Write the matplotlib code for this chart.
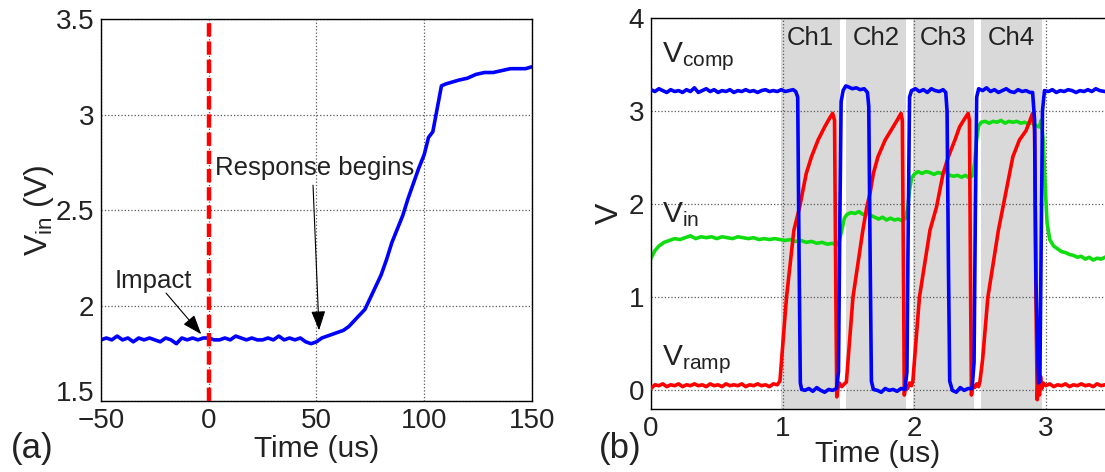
import matplotlib
matplotlib.use('Agg')
import matplotlib.pyplot as plt

# --- Fonts ---
plt.rcParams['font.family'] = ['Liberation Sans', 'DejaVu Sans']
plt.rcParams['mathtext.fontset'] = 'custom'
plt.rcParams['mathtext.rm'] = 'Liberation Sans'
plt.rcParams['mathtext.it'] = 'Liberation Sans:italic'

# --- (a) Vin around the impact, time in us ---
t_a = [-50, -47.5, -45, -42.5, -40, -37.5, -35, -32.5, -30, -27.5, -25, -22.5, -20,
       -17.5, -15, -12.5, -10, -7.5, -5, -2.5, 0, 2.5, 5, 7.5, 10, 12.5, 15, 17.5,
       20, 22.5, 25, 27.5, 30, 32.5, 35, 37.5, 40, 42.5, 45, 47.5, 50, 52.5, 55,
       57.5, 60, 62.5, 65, 67.5, 70, 72.5, 75, 77.5, 80, 82.5, 85, 87.5, 90, 92.5,
       95, 97.5, 100, 102, 104, 106, 108, 110, 113, 116, 120, 124, 128, 132, 136,
       140, 144, 147, 150]
vin_a = [1.82, 1.83, 1.82, 1.84, 1.82, 1.83, 1.81, 1.83, 1.82, 1.83, 1.82, 1.81, 1.83,
         1.82, 1.80, 1.83, 1.82, 1.83, 1.82, 1.83, 1.83, 1.82, 1.82, 1.83, 1.82, 1.84,
         1.83, 1.82, 1.83, 1.82, 1.82, 1.83, 1.82, 1.84, 1.82, 1.83, 1.82, 1.83, 1.81,
         1.80, 1.81, 1.83, 1.84, 1.85, 1.86, 1.87, 1.89, 1.92, 1.95, 1.98, 2.04, 2.10,
         2.16, 2.24, 2.33, 2.40, 2.47, 2.56, 2.64, 2.72, 2.79, 2.88, 2.91, 3.03, 3.15,
         3.16, 3.17, 3.18, 3.19, 3.21, 3.22, 3.22, 3.23, 3.24, 3.24, 3.24, 3.25]
t_impact = 0

# --- (b) converter waveforms, time in us ---
t_comp = [0.00, 0.03, 0.06, 0.09, 0.12, 0.15, 0.18, 0.21, 0.24, 0.27, 0.30, 0.33, 0.36,
          0.39, 0.42, 0.45, 0.48, 0.51, 0.54, 0.57, 0.60, 0.63, 0.66, 0.69, 0.72, 0.75,
          0.78, 0.81, 0.84, 0.87, 0.90, 0.93, 0.96, 0.99, 1.02, 1.05, 1.08, 1.10, 1.115,
          1.125, 1.135, 1.145, 1.17, 1.20, 1.23, 1.26, 1.29, 1.32, 1.35, 1.38, 1.41,
          1.425, 1.435, 1.445, 1.46, 1.48, 1.50, 1.53, 1.56, 1.59, 1.62, 1.645, 1.655,
          1.665, 1.675, 1.69, 1.72, 1.75, 1.78, 1.81, 1.84, 1.87, 1.90, 1.93, 1.945,
          1.955, 1.965, 1.98, 2.01, 2.04, 2.07, 2.10, 2.13, 2.16, 2.19, 2.22, 2.24, 2.25,
          2.26, 2.27, 2.29, 2.32, 2.35, 2.38, 2.41, 2.44, 2.455, 2.465, 2.475, 2.49,
          2.52, 2.55, 2.58, 2.61, 2.64, 2.67, 2.70, 2.73, 2.76, 2.79, 2.82, 2.85, 2.88,
          2.90, 2.915, 2.925, 2.935, 2.945, 2.955, 2.965, 2.975, 2.99, 3.02, 3.05, 3.08,
          3.11, 3.14, 3.17, 3.20, 3.23, 3.26, 3.29, 3.32, 3.35, 3.38, 3.41, 3.45]
v_comp = [3.23, 3.21, 3.24, 3.22, 3.20, 3.23, 3.21, 3.22, 3.20, 3.23, 3.21, 3.25, 3.20,
          3.22, 3.24, 3.21, 3.23, 3.20, 3.22, 3.21, 3.23, 3.20, 3.22, 3.21, 3.23, 3.21,
          3.22, 3.20, 3.22, 3.23, 3.21, 3.22, 3.21, 3.23, 3.21, 3.22, 3.23, 3.21, 3.15,
          1.50, 0.08, 0.01, 0.00, 0.02, -0.01, 0.03, 0.00, -0.02, 0.01, 0.00, 0.02,
          0.20, 1.80, 3.10, 3.22, 3.27, 3.26, 3.24, 3.25, 3.23, 3.24, 3.20, 3.05,
          1.50, 0.10, 0.01, 0.00, -0.02, 0.02, 0.00, 0.01, -0.01, 0.02, 0.01, 0.20,
          1.80, 3.15, 3.22, 3.24, 3.21, 3.23, 3.20, 3.24, 3.22, 3.21, 3.23, 3.20, 3.00,
          1.40, 0.10, 0.00, -0.02, 0.03, 0.00, 0.02, 0.02, 0.30, 1.90, 3.15, 3.24,
          3.22, 3.25, 3.21, 3.23, 3.20, 3.22, 3.24, 3.21, 3.20, 3.23, 3.21, 3.22, 3.20,
          3.20, 2.90, 1.20, 0.60, 0.08, 0.10, 1.50, 3.00, 3.22, 3.21, 3.23, 3.20,
          3.22, 3.21, 3.23, 3.22, 3.20, 3.22, 3.21, 3.23, 3.21, 3.24, 3.22, 3.21]

t_ramp = [0.00, 0.03, 0.06, 0.09, 0.12, 0.15, 0.18, 0.21, 0.24, 0.27, 0.30, 0.33, 0.36,
          0.39, 0.42, 0.45, 0.48, 0.51, 0.54, 0.57, 0.60, 0.63, 0.66, 0.69, 0.72, 0.75,
          0.78, 0.81, 0.84, 0.87, 0.90, 0.93, 0.96, 0.98, 1.03, 1.086, 1.13, 1.18, 1.22,
          1.27, 1.32, 1.36, 1.38, 1.395, 1.405, 1.412, 1.42, 1.43, 1.45, 1.47, 1.485,
          1.535, 1.61, 1.64, 1.665, 1.69, 1.725, 1.78, 1.84, 1.87, 1.90, 1.91, 1.92,
          1.925, 1.935, 1.95, 1.965, 1.98, 1.99, 2.04, 2.12, 2.17, 2.22, 2.26, 2.31,
          2.345, 2.38, 2.41, 2.42, 2.428, 2.435, 2.445, 2.46, 2.475, 2.49, 2.50, 2.52,
          2.56, 2.64, 2.675, 2.725, 2.75, 2.80, 2.85, 2.88, 2.90, 2.915, 2.925, 2.935,
          2.945, 2.952, 2.96, 2.97, 2.98, 3.00, 3.03, 3.06, 3.09, 3.12, 3.15, 3.18,
          3.21, 3.24, 3.27, 3.30, 3.33, 3.36, 3.39, 3.42, 3.45]
v_ramp = [0.02, 0.06, 0.05, 0.07, 0.04, 0.06, 0.05, 0.07, 0.04, 0.06, 0.05, 0.07, 0.05,
          0.06, 0.04, 0.07, 0.05, 0.06, 0.04, 0.07, 0.05, 0.06, 0.05, 0.07, 0.04, 0.06,
          0.05, 0.07, 0.05, 0.06, 0.04, 0.07, 0.06, 0.10, 1.00, 1.72, 1.97, 2.33, 2.51,
          2.69, 2.83, 2.93, 2.975, 2.90, 1.00, -0.07, 0.02, 0.08, 0.04, 0.07, 0.09,
          1.00, 1.72, 1.97, 2.12, 2.33, 2.51, 2.69, 2.83, 2.90, 2.975, 2.90, 1.00,
          -0.05, 0.05, 0.02, 0.08, 0.05, 0.10, 1.00, 1.72, 1.97, 2.33, 2.51, 2.69,
          2.83, 2.91, 2.975, 2.90, 1.20, -0.05, 0.06, 0.03, 0.07, 0.04, 0.10, 0.33,
          1.00, 1.72, 1.97, 2.33, 2.51, 2.69, 2.79, 2.90, 2.975, 2.80, 1.00, -0.10,
          0.25, -0.05, 0.15, 0.02, 0.08, 0.05, 0.07, 0.04, 0.06, 0.05, 0.07, 0.04,
          0.06, 0.05, 0.07, 0.05, 0.06, 0.04, 0.07, 0.05, 0.06]

t_in = [0.00, 0.03, 0.06, 0.10, 0.14, 0.18, 0.22, 0.26, 0.30, 0.34, 0.38, 0.42, 0.46,
        0.50, 0.54, 0.58, 0.62, 0.66, 0.70, 0.74, 0.78, 0.82, 0.86, 0.90, 0.94, 0.98,
        1.02, 1.06, 1.10, 1.14, 1.18, 1.22, 1.26, 1.30, 1.34, 1.38, 1.41, 1.43, 1.45,
        1.47, 1.49, 1.52, 1.55, 1.58, 1.61, 1.64, 1.67, 1.70, 1.73, 1.76, 1.79, 1.82,
        1.85, 1.88, 1.91, 1.935, 1.95, 1.965, 1.98, 2.00, 2.03, 2.06, 2.09, 2.12, 2.15,
        2.18, 2.21, 2.24, 2.27, 2.30, 2.33, 2.36, 2.39, 2.42, 2.445, 2.46, 2.475, 2.49,
        2.51, 2.54, 2.57, 2.60, 2.63, 2.66, 2.69, 2.72, 2.75, 2.78, 2.81, 2.84, 2.87,
        2.90, 2.93, 2.95, 2.965, 2.98, 2.995, 3.01, 3.03, 3.06, 3.09, 3.12, 3.15, 3.18,
        3.21, 3.24, 3.27, 3.30, 3.33, 3.36, 3.39, 3.42, 3.45]
v_in = [1.42, 1.50, 1.55, 1.59, 1.61, 1.63, 1.62, 1.64, 1.66, 1.63, 1.65, 1.64, 1.65,
        1.63, 1.65, 1.64, 1.63, 1.65, 1.64, 1.63, 1.64, 1.62, 1.63, 1.62, 1.63, 1.62,
        1.61, 1.62, 1.60, 1.61, 1.59, 1.60, 1.58, 1.59, 1.57, 1.58, 1.56, 1.60, 1.72,
        1.85, 1.89, 1.91, 1.90, 1.92, 1.89, 1.90, 1.88, 1.86, 1.84, 1.86, 1.83, 1.85,
        1.83, 1.84, 1.82, 1.85, 1.95, 2.15, 2.28, 2.32, 2.35, 2.33, 2.35, 2.34, 2.32,
        2.34, 2.33, 2.35, 2.31, 2.30, 2.31, 2.29, 2.31, 2.28, 2.31, 2.45, 2.70, 2.84,
        2.88, 2.89, 2.87, 2.89, 2.88, 2.90, 2.87, 2.89, 2.88, 2.89, 2.87, 2.88, 2.86,
        2.88, 2.84, 2.83, 2.90, 2.70, 2.20, 1.80, 1.62, 1.55, 1.52, 1.49, 1.48, 1.46,
        1.45, 1.43, 1.44, 1.41, 1.43, 1.40, 1.42, 1.41, 1.43]

ch_names = ['Ch1', 'Ch2', 'Ch3', 'Ch4']
ch_start = [0.985, 1.485, 1.99, 2.51]
ch_end = [1.44, 1.94, 2.455, 2.97]

# --- Figure ---
fig = plt.figure(figsize=(11.05, 4.72), dpi=100)
ax1 = fig.add_axes([0.0914, 0.1504, 0.3900, 0.8093])
ax2 = fig.add_axes([0.5891, 0.1335, 0.4109, 0.8284])

grid_kw = dict(linestyle=':', color='0.35', linewidth=0.9)
txt_col = '#222222'

# (a)
ax1.plot(t_a, vin_a, color='#0000ff', lw=2.6, zorder=2)
ax1.axvline(t_impact, color='#ff0000', lw=3.2, dashes=(3, 1.1), zorder=3)
ax1.set_xlim(-50, 150)
ax1.set_ylim(1.5, 3.5)
ax1.set_xticks([-50, 0, 50, 100, 150])
ax1.set_xticklabels(['\u221250', '0', '50', '100', '150'])
ax1.set_yticks([1.5, 2, 2.5, 3, 3.5])
ax1.set_yticklabels(['1.5', '2', '2.5', '3', '3.5'])
ax1.grid(True, **grid_kw)
ax1.set_xlabel('Time (us)', fontsize=21.5)
ax1.xaxis.set_label_coords(0.5, -0.09)
ax1.set_ylabel(r'$\mathregular{V_{in}}$ (V)', fontsize=23)
ax1.yaxis.set_label_coords(-0.105, 0.5)

arrow_kw = dict(arrowstyle='-|>,head_length=0.6,head_width=0.22', color='k',
                lw=0.8, shrinkA=0, shrinkB=0, mutation_scale=20)
ax1.text(-25.9, 2.092, 'Impact', fontsize=18.5, ha='center', va='baseline', color=txt_col)
ax1.annotate('', xy=(-3.5, 1.85), xytext=(-19.8, 2.065), arrowprops=arrow_kw)
ax1.text(2.9, 2.683, 'Response begins', fontsize=18.5, ha='left', va='baseline',
         color=txt_col)
ax1.annotate('', xy=(51.2, 1.87), xytext=(48.4, 2.63), arrowprops=arrow_kw)

# (b)
for name, a, b in zip(ch_names, ch_start, ch_end):
    ax2.axvspan(a, b, color='#d9d9d9', lw=0, zorder=1)
    ax2.text((a + b) / 2, 3.71, name, fontsize=18.5, ha='center', va='baseline',
             color=txt_col)

ax2.plot(t_in, v_in, color='#10dd10', lw=2.6, zorder=2)
ax2.plot(t_ramp, v_ramp, color='#ff0000', lw=2.6, zorder=3)
ax2.plot(t_comp, v_comp, color='#0000ff', lw=2.6, zorder=4)

ax2.text(0.084, 3.52, r'$\mathregular{V_{comp}}$', fontsize=21.5, va='baseline',
         color=txt_col)
ax2.text(0.084, 1.81, r'$\mathregular{V_{in}}$', fontsize=21.5, va='baseline',
         color=txt_col)
ax2.text(0.084, 0.27, r'$\mathregular{V_{ramp}}$', fontsize=21.5, va='baseline',
         color=txt_col)

ax2.set_xlim(0, 3.45)
ax2.set_ylim(-0.2, 4)
ax2.set_xticks([0, 1, 2, 3])
ax2.set_yticks([0, 1, 2, 3, 4])
ax2.set_yticklabels(['0', '1', '2', '3', '4'])
ax2.grid(True, **grid_kw)
ax2.spines['right'].set_visible(False)
ax2.set_xlabel('Time (us)', fontsize=21.5)
ax2.xaxis.set_label_coords(0.5, -0.08)
ax2.set_ylabel('V', fontsize=23)
ax2.yaxis.set_label_coords(-0.058, 0.5)

for ax in (ax1, ax2):
    ax.tick_params(length=0, labelsize=20, colors=txt_col)
    ax.tick_params(axis='x', pad=5)
    ax.tick_params(axis='y', pad=5)
    for s in ax.spines.values():
        s.set_linewidth(1.0)
    ax.xaxis.label.set_color(txt_col)
    ax.yaxis.label.set_color(txt_col)

# lift the lowest y label of (a) clear of the x labels
ax1.get_yticklabels()[0].set_va('baseline')

fig.text(0.029, 0.049, '(a)', fontsize=25, ha='center', va='center', color=txt_col)
fig.text(0.5615, 0.049, '(b)', fontsize=25, ha='center', va='center', color=txt_col)

fig.savefig('out.png', dpi=100)
